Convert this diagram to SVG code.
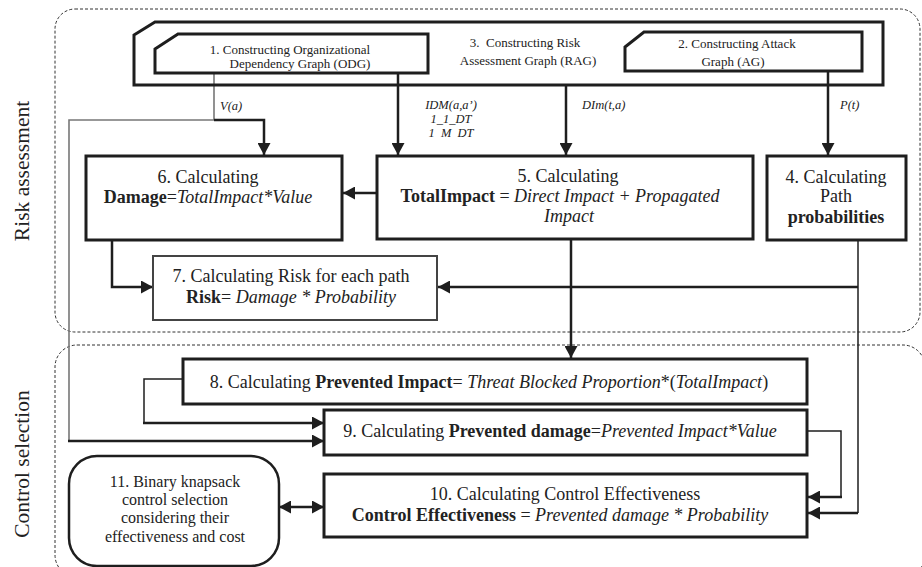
<svg xmlns="http://www.w3.org/2000/svg" width="922" height="567" viewBox="0 0 922 567">
  <style>
    text { font-family: "Liberation Serif", "Times New Roman", serif; fill: #222; }
    .sm { font-size: 13px; }
    .lb { font-size: 12.5px; font-style: italic; }
    .md { font-size: 18px; }
    .kn { font-size: 16px; }
    .side { font-size: 21.5px; }
    .b { font-weight: bold; }
    .i { font-style: italic; }
    .box { fill: #fff; stroke: #1e1e1e; stroke-width: 3; }
    .frame { fill: none; stroke: #1e1e1e; stroke-width: 3; stroke-linejoin: miter; }
    .region { fill: none; stroke: #333; stroke-width: 1; stroke-dasharray: 3 2; }
    .thick { fill: none; stroke: #1e1e1e; stroke-width: 2.5; }
    .thin { fill: none; stroke: #1e1e1e; stroke-width: 1.5; }
    .grey { fill: none; stroke: #777; stroke-width: 1.6; }
    .arr { marker-end: url(#head); }
  </style>
  <defs>
    <marker id="head" markerUnits="userSpaceOnUse" markerWidth="13" markerHeight="13" refX="12" refY="6.5" orient="auto-start-reverse">
      <path d="M0,0 L12,6.5 L0,13 Z" fill="#1e1e1e"/>
    </marker>
    <clipPath id="clipLine3">
      <rect x="420" y="125" width="70" height="13"/>
    </clipPath>
  </defs>

  <rect width="922" height="567" fill="#fff"/>

  <!-- phase regions -->
  <g id="phase-risk">
    <rect class="region" x="55" y="9" width="865" height="323" rx="20"/>
    <text class="side" transform="translate(29,171) rotate(-90)" text-anchor="middle">Risk assessment</text>
  </g>
  <g id="phase-control">
    <rect class="region" x="55" y="345" width="870" height="232" rx="22"/>
    <text class="side" transform="translate(29,464) rotate(-90)" text-anchor="middle">Control selection</text>
  </g>

  <!-- connectors -->
  <g id="connectors">
    <path class="grey" d="M214,73 V120 H69 V441"/>
    <path class="thick arr" d="M214,120 H264 V155"/>
    <path class="thick arr" d="M398,73 V155"/>
    <path class="thick arr" d="M566,85 V155"/>
    <path class="thick arr" d="M828,71 V155"/>
    <path class="thick arr" d="M377,193 H343"/>
    <path class="thick arr" d="M112,240 V287 H153"/>
    <path class="thin" d="M858,240 V513"/>
    <path class="thick arr" d="M858,287 H438"/>
    <path class="thick arr" d="M858,513 H808"/>
    <path class="thick arr" d="M571,239 V358"/>
    <path class="thin" d="M183,379 H144 V423"/>
    <path class="thick arr" d="M143,423 H324"/>
    <path class="thick arr" d="M68,441 H324"/>
    <path class="thin" d="M807,431 H841 V497"/>
    <path class="thick arr" d="M842,497 H808"/>
    <path class="thick" d="M279,507 H324" marker-start="url(#head)" marker-end="url(#head)"/>
    <text class="lb" x="220" y="110">V(a)</text>
    <text class="lb" x="451" y="109" text-anchor="middle">IDM(a,a’)</text>
    <text class="lb" x="451" y="123" text-anchor="middle">1_1_DT</text>
    <text class="lb" x="451" y="137" text-anchor="middle" clip-path="url(#clipLine3)">1_M_DT</text>
    <text class="lb" x="582" y="109">DIm(t,a)</text>
    <text class="lb" x="840" y="109">P(t)</text>
  </g>

  <!-- 3. risk assessment graph frame -->
  <g id="node3">
    <path class="frame" d="M134,35 L155,22 H883 V85 H134 Z"/>
    <text class="sm" x="525" y="47" text-anchor="middle" xml:space="preserve">3.  Constructing Risk</text>
    <text class="sm" x="528" y="65" text-anchor="middle">Assessment Graph (RAG)</text>
  </g>

  <g id="node1">
    <path class="box" d="M155,49 L178,34 H428 V73 H155 Z"/>
    <text class="sm" x="290" y="54" text-anchor="middle">1. Constructing Organizational</text>
    <text class="sm" x="300" y="68" text-anchor="middle">Dependency Graph (ODG)</text>
  </g>

  <g id="node2">
    <path class="box" d="M625,47 L644,32 H862 V71 H625 Z"/>
    <text class="sm" x="737" y="48" text-anchor="middle">2. Constructing Attack</text>
    <text class="sm" x="733" y="66" text-anchor="middle">Graph (AG)</text>
  </g>

  <g id="node6">
    <rect class="box" x="86" y="156" width="256" height="84"/>
    <text class="md" x="208" y="183" text-anchor="middle">6. Calculating</text>
    <text class="md" x="208" y="203" text-anchor="middle"><tspan class="b">Damage</tspan>=<tspan class="i">TotalImpact*Value</tspan></text>
  </g>

  <g id="node5">
    <rect class="box" x="377" y="156" width="376" height="83"/>
    <text class="md" x="568" y="182" text-anchor="middle">5. Calculating</text>
    <text class="md" x="560" y="202" text-anchor="middle"><tspan class="b">TotalImpact</tspan> = <tspan class="i">Direct Impact + Propagated</tspan></text>
    <text class="md i" x="569" y="222" text-anchor="middle">Impact</text>
  </g>

  <g id="node4">
    <rect class="box" x="767" y="156" width="139" height="84"/>
    <text class="md" x="836" y="183" text-anchor="middle">4. Calculating</text>
    <text class="md" x="836" y="202" text-anchor="middle">Path</text>
    <text class="md b" x="836" y="223" text-anchor="middle">probabilities</text>
  </g>

  <g id="node7">
    <rect x="153" y="256" width="284" height="64" fill="#fff" stroke="#444" stroke-width="2"/>
    <text class="md" x="291" y="282" text-anchor="middle">7. Calculating Risk for each path</text>
    <text class="md" x="291" y="303" text-anchor="middle"><tspan class="b">Risk</tspan>= <tspan class="i">Damage * Probability</tspan></text>
  </g>

  <g id="node8">
    <rect class="box" x="183" y="359" width="624" height="45"/>
    <text class="md" x="489" y="388" text-anchor="middle">8. Calculating <tspan class="b">Prevented Impact</tspan>= <tspan class="i">Threat Blocked Proportion</tspan>*(<tspan class="i">TotalImpact</tspan>)</text>
  </g>

  <g id="node9">
    <rect class="box" x="324" y="410" width="483" height="45"/>
    <text class="md" x="560" y="437" text-anchor="middle">9. Calculating <tspan class="b">Prevented damage</tspan>=<tspan class="i">Prevented Impact*Value</tspan></text>
  </g>

  <g id="node10">
    <rect class="box" x="324" y="474" width="483" height="63"/>
    <text class="md" x="565" y="500" text-anchor="middle">10. Calculating Control Effectiveness</text>
    <text class="md" x="560" y="521" text-anchor="middle"><tspan class="b">Control Effectiveness</tspan> = <tspan class="i">Prevented damage * Probability</tspan></text>
  </g>

  <g id="node11">
    <rect x="69" y="456" width="210" height="110" rx="28" fill="#fff" stroke="#1e1e1e" stroke-width="2.5"/>
    <text class="kn" x="175" y="487" text-anchor="middle">11. Binary knapsack</text>
    <text class="kn" x="175" y="505" text-anchor="middle">control selection</text>
    <text class="kn" x="175" y="523" text-anchor="middle">considering their</text>
    <text class="kn" x="175" y="542" text-anchor="middle">effectiveness and cost</text>
  </g>
</svg>
